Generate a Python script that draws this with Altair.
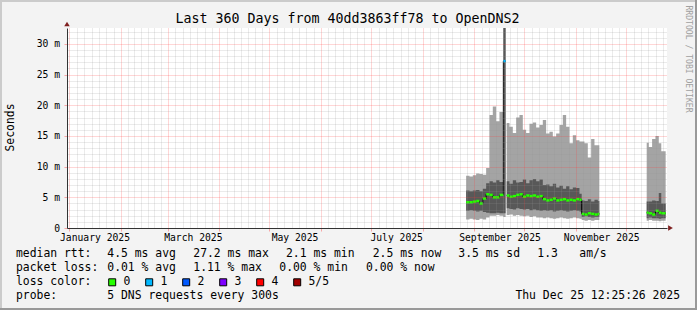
import altair as alt
import pandas as pd

MONO = "DejaVu Sans Mono"

# ---------------- text content ----------------
TITLE = "Last 360 Days from 40dd3863ff78 to OpenDNS2"
Y_TITLE = "Seconds"
WATERMARK = "RRDTOOL / TOBI OETIKER"
LEGEND_HEADS = ["median rtt:", "packet loss:", "loss color:", "probe:"]
RTT_ITEMS = ["4.5 ms avg", "27.2 ms max", "2.1 ms min", "2.5 ms now", "3.5 ms sd", "1.3", "am/s"]
LOSS_ITEMS = ["0.01 % avg", "1.11 % max", "0.00 % min", "0.00 % now"]
LOSS_LABELS = ["0", "1", "2", "3", "4", "5/5"]
LOSS_COLORS = ["#26ff00", "#00b8ff", "#0059ff", "#7e00ff", "#ff0000", "#a10000"]
PROBE = "5 DNS requests every 300s"
STAMP = "Thu Dec 25 12:25:26 2025"

RANGE_START = "2024-12-30T12:25:26"
RANGE_END = "2025-12-25T12:25:26"
Y_MAX_MS = 32.6

# ---------------- smoke data (ms) ----------------
BUCKET_START = [
    # segment A
    "2025-08-27T00:00", "2025-08-29T00:00", "2025-08-31T00:00", "2025-09-02T00:00",
    "2025-09-04T00:00", "2025-09-06T00:00", "2025-09-08T00:00", "2025-09-10T00:00",
    "2025-09-12T00:00", "2025-09-14T00:00", "2025-09-16T00:00", "2025-09-18T08:00",
    # segment B
    "2025-09-20T08:00", "2025-09-22T00:00", "2025-09-24T00:00", "2025-09-26T00:00",
    "2025-09-28T00:00", "2025-09-30T00:00", "2025-10-02T00:00", "2025-10-04T00:00",
    "2025-10-06T00:00", "2025-10-08T00:00", "2025-10-10T00:00", "2025-10-12T00:00",
    "2025-10-14T00:00", "2025-10-16T00:00", "2025-10-18T00:00", "2025-10-20T00:00",
    "2025-10-22T00:00", "2025-10-24T00:00", "2025-10-26T00:00", "2025-10-28T00:00",
    "2025-10-30T00:00", "2025-11-01T00:00", "2025-11-03T00:00", "2025-11-04T08:00",
    "2025-11-06T00:00", "2025-11-08T00:00", "2025-11-10T00:00", "2025-11-12T00:00",
    "2025-11-14T00:00",
    # segment C
    "2025-12-13T08:00", "2025-12-14T14:00", "2025-12-16T14:00", "2025-12-18T14:00",
    "2025-12-20T14:00", "2025-12-22T02:00",
]
SEGMENT = ["A"] * 12 + ["B"] * 29 + ["C"] * 6
SEGMENT_END = {"A": "2025-09-19T16:00", "B": "2025-11-14T22:00", "C": "2025-12-24T17:00"}

P5 = [8.5, 8.4, 8.6, 8.9, 8.8, 8.7, 9.8, 18.4, 19.8, 17.4, 18.9, 32.8,
      17.1, 16.5, 15.5, 18.0, 18.4, 16.0, 15.5, 17.0, 17.2, 16.4, 16.8, 17.6,
      15.4, 15.7, 14.9, 15.4, 16.8, 18.4, 16.5, 13.8, 15.1, 14.3, 14.1, 14.1,
      13.8, 11.5, 14.5, 13.5, 13.5,
      13.9, 13.2, 14.5, 15.0, 13.8, 12.5]
P4 = [6.1, 6.0, 6.1, 6.2, 6.0, 6.4, 7.3, 7.6, 7.4, 7.8, 7.5, 32.8,
      7.6, 7.2, 7.8, 7.4, 7.5, 7.9, 7.3, 7.8, 8.0, 7.6, 7.9, 7.0,
      7.1, 6.8, 7.2, 6.6, 6.9, 6.4, 6.8, 6.3, 6.6, 6.5, 5.6, 4.5,
      4.4, 4.7, 4.3, 4.6, 4.4,
      4.3, 4.3, 4.5, 4.4, 5.7, 4.0]
P3 = [4.2, 4.2, 4.3, 4.4, 4.0, 4.8, 5.5, 5.4, 5.0, 5.0, 5.4, 27.2,
      5.3, 5.1, 5.2, 5.4, 5.5, 5.1, 5.3, 5.2, 5.3, 5.1, 5.2, 4.7,
      4.5, 4.6, 4.8, 4.5, 4.6, 4.7, 4.5, 4.6, 4.5, 4.7, 4.6, 2.3,
      2.2, 2.4, 2.3, 2.2, 2.3,
      2.5, 2.4, 2.2, 2.8, 2.5, 2.4]
P2 = [2.8, 2.9, 2.8, 2.7, 2.8, 2.6, 2.5, 2.4, 2.4, 2.5, 2.4, 2.4,
      3.2, 3.1, 3.0, 3.2, 3.1, 3.0, 3.1, 2.9, 3.0, 2.9, 2.8, 2.9,
      2.8, 2.9, 2.7, 2.8, 2.9, 2.8, 2.7, 2.8, 2.9, 2.8, 2.7, 1.8,
      1.9, 1.8, 1.7, 1.8, 1.8,
      1.6, 1.7, 1.6, 1.6, 1.5, 1.6]
P1 = [1.4, 1.5, 1.4, 1.3, 1.5, 1.4, 1.7, 2.0, 2.0, 2.1, 2.0, 1.8,
      2.1, 2.2, 2.0, 2.1, 2.0, 1.9, 2.0, 1.8, 1.9, 1.7, 1.7, 1.6,
      1.7, 1.6, 1.5, 1.6, 1.7, 1.6, 1.5, 1.6, 1.7, 1.6, 1.5, 1.3,
      1.2, 1.3, 1.2, 1.3, 1.3,
      1.2, 1.3, 1.2, 1.2, 1.1, 1.2]
LOSS = [0] * 11 + [1] + [0] * 29 + [0] * 6

# ---------------- styles ----------------
LIGHT = "#a4a4a4"
DARK = "#585858"
ARROW = "#7f1f1f"
MAJOR = "rgba(255,60,60,0.42)"
MINOR = "rgba(150,150,150,0.38)"


def to_ms(s):
    return int(pd.Timestamp(s, tz="UTC").value // 1_000_000)


area_rows, band_rows = [], []
n = len(BUCKET_START)
for i in range(n):
    seg = SEGMENT[i]
    last = (i == n - 1) or (SEGMENT[i + 1] != seg)
    end = SEGMENT_END[seg] if last else BUCKET_START[i + 1]
    rec = {"t": to_ms(BUCKET_START[i]), "t2": to_ms(end), "seg": seg,
           "p1": P1[i], "p2": P2[i], "p3": P3[i], "p4": P4[i], "p5": P5[i],
           "c": LOSS_COLORS[LOSS[i]]}
    area_rows.append(rec)
    band_rows.append(rec)
    if last:
        area_rows.append({**rec, "t": to_ms(end)})
df_area = pd.DataFrame(area_rows)
df_band = pd.DataFrame(band_rows)

# ---------------- grid / axes ----------------
x_dom = [to_ms(RANGE_START), to_ms(RANGE_END)]
ticks = []
for m in pd.date_range("2024-12-01", "2025-12-01", freq="MS", tz="UTC"):
    nxt = m + pd.offsets.MonthBegin(1)
    ticks.append(m)
    for k in range(1, 7):
        ticks.append(m + (nxt - m) * k / 7)
x_ticks = sorted(int(t.value // 1_000_000) for t in ticks
                 if x_dom[0] <= t.value // 1_000_000 <= x_dom[1])
is_month = "utcdate(datum.value) == 1 && utchours(datum.value) == 0"

XAXIS = alt.Axis(
    values=x_ticks, grid=True,
    gridColor={"condition": {"test": is_month, "value": MAJOR}, "value": MINOR},
    gridDash=[1, 1], gridWidth=1,
    tickColor={"condition": {"test": is_month, "value": MAJOR}, "value": "rgba(0,0,0,0)"},
    tickSize=3,
    labelExpr="(" + is_month + " && utcmonth(datum.value) % 2 == 0) ? utcFormat(datum.value, '%B %Y') : ''",
    labelOffset=25, labelPadding=6, labelBaseline="middle",
    labelFont=MONO, labelFontSize=9.7, labelColor="#000000",
    labelOverlap=False, labelFlush=False,
    domainColor="#333333", zindex=1, title="",
)
YAXIS = alt.Axis(
    values=list(range(0, 33)), grid=True,
    gridColor={"condition": {"test": "datum.value % 5 == 0", "value": MAJOR}, "value": MINOR},
    gridDash=[1, 1], gridWidth=1,
    tickColor={"condition": {"test": "datum.value % 5 == 0", "value": MAJOR}, "value": "rgba(0,0,0,0)"},
    tickSize=3,
    labelExpr="datum.value % 5 == 0 ? (datum.value == 0 ? '0\u00a0\u00a0' : format(datum.value, 'd') + ' m') : ''",
    labelPadding=4.5, labelFont=MONO, labelFontSize=9.7, labelColor="#000000",
    labelOverlap=False, labelFlush=False,
    domainColor="#333333", zindex=1, title="",
)

x_enc = alt.X("t:T", scale=alt.Scale(type="utc", domain=x_dom), axis=XAXIS, title="")
yscale = alt.Scale(domain=[0, Y_MAX_MS], nice=False, zero=True)


def yenc(field):
    return alt.Y(field + ":Q", scale=yscale, axis=YAXIS, title="")


light = alt.Chart(df_area).mark_area(interpolate="step-after", color=LIGHT, clip=True).encode(
    x=x_enc, y=yenc("p1"), y2="p5:Q", detail="seg:N")
dark = alt.Chart(df_area).mark_area(interpolate="step-after", color=DARK, clip=True).encode(
    x=x_enc, y=yenc("p2"), y2="p4:Q", detail="seg:N")
median_line = alt.Chart(df_area).mark_line(interpolate="step-after", color="#000000",
                                           strokeWidth=1, clip=True).encode(
    x=x_enc, y=yenc("p3"), detail="seg:N")
band = alt.Chart(df_band).transform_calculate(
    lo="datum.p3 - 0.2", hi="datum.p3 + 0.2"
).mark_rect(clip=True).encode(
    x=x_enc, x2="t2:T", y=yenc("lo"), y2="hi:Q", color=alt.Color("c:N", scale=None))

layers = [light, dark, median_line, band]


def txt(s, x, y, size, align="left", angle=0, color="#000000"):
    return alt.Chart(pd.DataFrame({"s": [s]})).mark_text(
        align=align, baseline="middle", font=MONO, fontSize=size, angle=angle, color=color
    ).encode(text="s:N", x=alt.value(x), y=alt.value(y))


# title, axis title, watermark
layers.append(txt(TITLE, 280.5, -9.3, 13.3, align="center"))
layers.append(txt(Y_TITLE, -56, 99.5, 11.4, align="center", angle=270))
layers.append(txt(WATERMARK, 621.3, 31, 8.1, align="center", angle=90, color="#a0a0a0"))

# legend block
LINE_Y = [226.3, 240.3, 254.3, 268.0]
for head, ly in zip(LEGEND_HEADS, LINE_Y):
    layers.append(txt(head, -51, ly, 11.4))
RTT_X = [40.3, 126.3, 219.0, 305.7, 391.3, 470.3, 512.3]
for s, xx in zip(RTT_ITEMS, RTT_X):
    layers.append(txt(s, xx, LINE_Y[0], 11.4))
LOSS_X = [40.3, 126.3, 212.3, 299.0]
for s, xx in zip(LOSS_ITEMS, LOSS_X):
    layers.append(txt(s, xx, LINE_Y[1], 11.4))
for i, (lab, col) in enumerate(zip(LOSS_LABELS, LOSS_COLORS)):
    sx = 41.7 + 37 * i
    sq = alt.Chart(pd.DataFrame({"c": [col]})).mark_rect(stroke="#000000", strokeWidth=1).encode(
        x=alt.value(sx), x2=alt.value(sx + 7), y=alt.value(LINE_Y[2] - 3.5),
        y2=alt.value(LINE_Y[2] + 3.5), fill=alt.Color("c:N", scale=None))
    layers.append(sq)
    layers.append(txt(lab, sx + 14.8, LINE_Y[2], 11.4))
layers.append(txt(PROBE, 40.3, LINE_Y[3], 11.4))
layers.append(txt(STAMP, 613, LINE_Y[3], 11.4, align="right"))

# axis arrows
one = pd.DataFrame({"k": [0]})
layers.append(alt.Chart(one).mark_point(shape="triangle-right", filled=True, size=30,
                                        color=ARROW, opacity=1).encode(
    x=alt.value(603.5), y=alt.value(200)))
layers.append(alt.Chart(one).mark_point(shape="triangle-up", filled=True, size=30,
                                        color=ARROW, opacity=1).encode(
    x=alt.value(0), y=alt.value(-4)))

# image frame (rrdtool shade)
layers.append(alt.Chart(one).mark_rule(color="#cbcbcb", strokeWidth=2).encode(
    x=alt.value(-67), x2=alt.value(630), y=alt.value(-27)))
layers.append(alt.Chart(one).mark_rule(color="#cbcbcb", strokeWidth=2).encode(
    x=alt.value(-66), y=alt.value(-28), y2=alt.value(282)))
layers.append(alt.Chart(one).mark_rule(color="#999999", strokeWidth=2).encode(
    x=alt.value(-67), x2=alt.value(630), y=alt.value(281)))
layers.append(alt.Chart(one).mark_rule(color="#999999", strokeWidth=2).encode(
    x=alt.value(629), y=alt.value(-28), y2=alt.value(282)))

chart = alt.layer(*layers).properties(
    width=600, height=200,
    padding={"left": 67, "top": 28, "right": 30, "bottom": 82},
    autosize=alt.AutoSizeParams(type="none"),
    background="#f3f3f3",
).configure_view(fill="#ffffff", strokeWidth=0)

chart.save("out.html", embed_options={"renderer": "svg", "actions": False})
